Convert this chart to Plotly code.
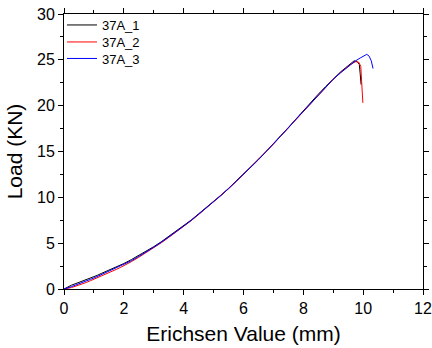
import plotly.graph_objects as go

# ---- data ----
x_1 = [0, 0.12, 0.25, 0.4, 0.5, 0.62, 0.75, 0.88, 1.0, 1.12, 1.25, 1.4, 1.5, 1.62, 1.75, 1.88, 2.0,
       2.25, 2.5, 2.75, 3.0, 3.25, 3.5, 3.75, 4.0, 4.25, 4.5, 4.75, 5.0, 5.25, 5.5, 5.75, 6.0,
       6.25, 6.5, 6.75, 7.0, 7.25, 7.5, 7.75, 8.0, 8.25, 8.5, 8.75, 9.0, 9.25, 9.4, 9.5, 9.6,
       9.7, 9.8, 9.87, 9.9, 9.93]
y_1 = [0, 0.22, 0.42, 0.6, 0.72, 0.86, 1.02, 1.15, 1.36, 1.5, 1.7, 1.9, 2.06, 2.2, 2.42, 2.58, 2.78,
       3.2, 3.65, 4.12, 4.62, 5.15, 5.72, 6.3, 6.9, 7.52, 8.2, 8.85, 9.52, 10.25, 10.98, 11.75, 12.55,
       13.32, 14.15, 14.98, 15.82, 16.75, 17.62, 18.55, 19.45, 20.35, 21.25, 22.1, 22.95, 23.7, 24.1, 24.4, 24.65,
       24.9, 24.8, 24.5, 23.5, 22.3]

x_2 = [0, 0.12, 0.25, 0.4, 0.5, 0.62, 0.75, 0.88, 1.0, 1.12, 1.25, 1.4, 1.5, 1.62, 1.75, 1.88, 2.0,
       2.25, 2.5, 2.75, 3.0, 3.25, 3.5, 3.75, 4.0, 4.25, 4.5, 4.75, 5.0, 5.25, 5.5, 5.75, 6.0,
       6.25, 6.5, 6.75, 7.0, 7.25, 7.5, 7.75, 8.0, 8.25, 8.5, 8.75, 9.0, 9.25, 9.4, 9.5, 9.6,
       9.75, 9.85, 9.92, 9.96, 9.99]
y_2 = [0, 0.06, 0.16, 0.32, 0.42, 0.56, 0.72, 0.9, 1.06, 1.22, 1.4, 1.62, 1.76, 1.95, 2.14, 2.34, 2.52,
       2.98, 3.46, 3.96, 4.5, 5.04, 5.62, 6.2, 6.82, 7.45, 8.12, 8.8, 9.48, 10.2, 10.94, 11.7, 12.5,
       13.3, 14.12, 14.95, 15.8, 16.7, 17.6, 18.5, 19.4, 20.3, 21.2, 22.05, 22.88, 23.62, 24.02, 24.3, 24.55,
       24.8, 24.75, 24.3, 22.0, 20.3]

x_3 = [0, 0.12, 0.25, 0.4, 0.5, 0.62, 0.75, 0.88, 1.0, 1.12, 1.25, 1.4, 1.5, 1.62, 1.75, 1.88, 2.0,
       2.25, 2.5, 2.75, 3.0, 3.25, 3.5, 3.75, 4.0, 4.25, 4.5, 4.75, 5.0, 5.25, 5.5, 5.75, 6.0,
       6.25, 6.5, 6.75, 7.0, 7.25, 7.5, 7.75, 8.0, 8.25, 8.5, 8.75, 9.0, 9.25, 9.4, 9.5, 9.6,
       9.75, 9.9, 10.0, 10.06, 10.12, 10.2, 10.27, 10.33]
y_3 = [0, 0.1, 0.26, 0.45, 0.56, 0.72, 0.88, 1.05, 1.2, 1.38, 1.55, 1.76, 1.9, 2.08, 2.28, 2.46, 2.66,
       3.08, 3.56, 4.03, 4.56, 5.09, 5.66, 6.24, 6.86, 7.48, 8.15, 8.82, 9.5, 10.2, 10.95, 11.7, 12.5,
       13.3, 14.1, 14.95, 15.8, 16.7, 17.58, 18.5, 19.38, 20.3, 21.18, 22.02, 22.88, 23.6, 24.0, 24.3, 24.5,
       24.9, 25.2, 25.4, 25.5, 25.6, 25.4, 24.9, 24.05]

names = ["37A_1", "37A_2", "37A_3"]
colors = ["#000000", "#ff0000", "#0000ff"]

x_ticks = [0, 2, 4, 6, 8, 10, 12]
y_ticks = [0, 5, 10, 15, 20, 25, 30]

FONT = "Arial, Liberation Sans, sans-serif"

legend_ids = ["legend", "legend2", "legend3"]
legend_y = [1.0145, 0.9527, 0.8927]

fig = go.Figure()
for xs, ys, nm, col, lg in zip([x_1, x_2, x_3], [y_1, y_2, y_3], names, colors, legend_ids):
    fig.add_trace(go.Scatter(x=xs, y=ys, mode="lines", name=nm, legend=lg,
                             line=dict(color=col, width=1)))

axis_common = dict(
    showline=True, linecolor="black", linewidth=1, mirror="ticks",
    ticks="outside", ticklen=5, tickwidth=1, tickcolor="black",
    showgrid=False, zeroline=False,
    tickfont=dict(family=FONT, size=16, color="black"),
)

fig.update_xaxes(
    range=[0, 12], tickvals=x_ticks, ticktext=[str(v) for v in x_ticks],
    minor=dict(dtick=1, ticks="outside", ticklen=3, tickcolor="black", showgrid=False),
    title=dict(text="Erichsen Value (mm)", font=dict(family=FONT, size=21, color="black"), standoff=10),
    **axis_common,
)
fig.update_yaxes(
    range=[0, 30], tickvals=y_ticks, ticktext=[str(v) for v in y_ticks],
    minor=dict(dtick=2.5, ticks="outside", ticklen=3, tickcolor="black", showgrid=False),
    title=dict(text="Load (KN)", font=dict(family=FONT, size=21, color="black"), standoff=8),
    **axis_common,
)

legend_style = dict(x=-0.0056, xanchor="left", yanchor="top",
                    bgcolor="rgba(0,0,0,0)", borderwidth=0,
                    font=dict(family=FONT, size=13, color="black"),
                    itemwidth=30)

fig.update_layout(
    width=432, height=348,
    margin=dict(l=64, r=9, t=14, b=59, autoexpand=False),
    paper_bgcolor="white", plot_bgcolor="white",
    showlegend=True,
    legend=dict(y=legend_y[0], **legend_style),
    legend2=dict(y=legend_y[1], **legend_style),
    legend3=dict(y=legend_y[2], **legend_style),
)

fig.write_html("out.html", config={"displayModeBar": False},
               post_script="document.body.style.margin='0';document.body.style.padding='0';")
